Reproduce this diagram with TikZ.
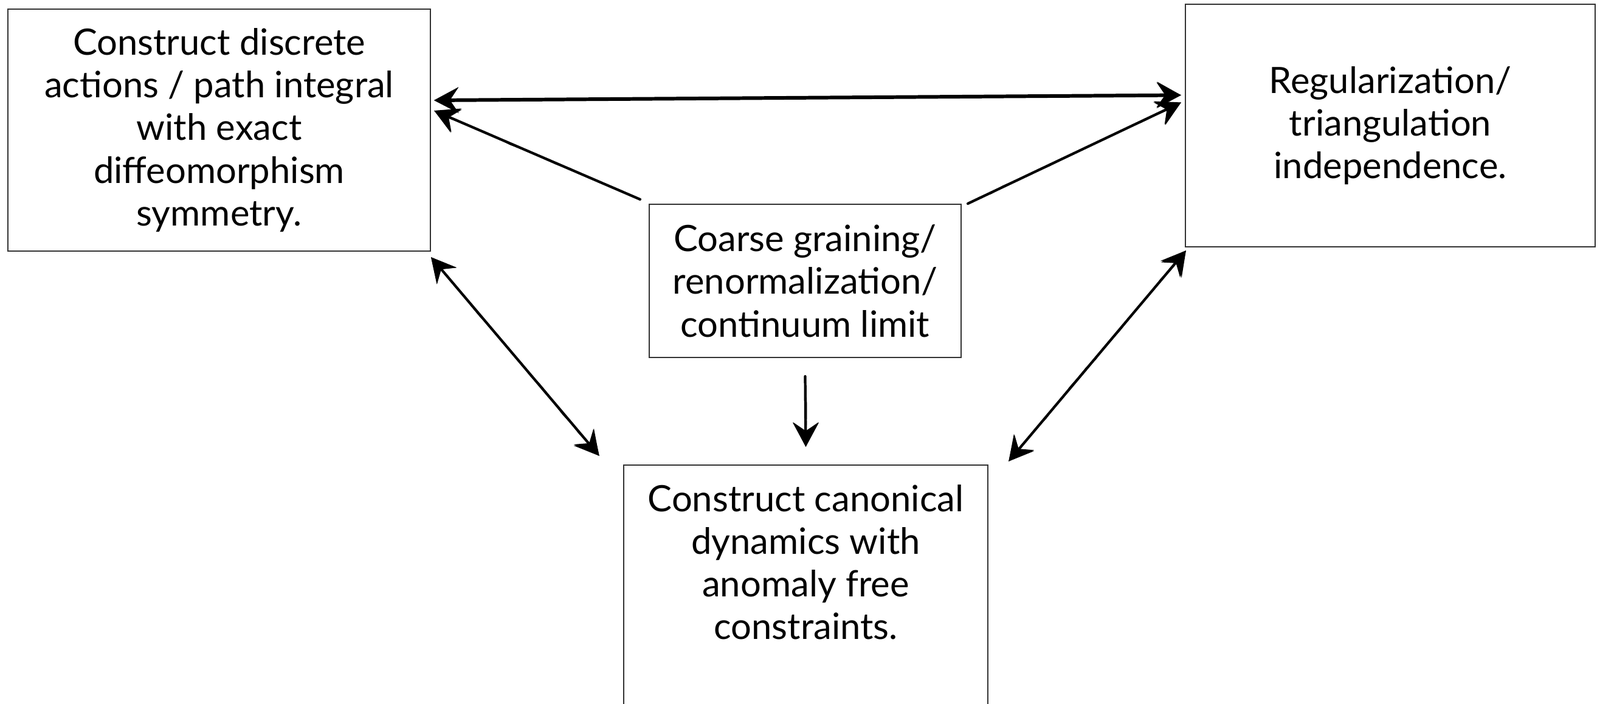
\documentclass[tikz,border=0pt]{standalone}
\usepackage{fontspec}
\setmainfont{Lato}
\usetikzlibrary{positioning,arrows.meta,decorations.pathmorphing}

\tikzset{
  box/.style={draw=black!80, line width=0.6pt, align=center, inner sep=0pt,
    font=\fontsize{17}{20}\selectfont},
  sketch/.style={black, line width=1.2pt, line cap=round,
    {Stealth[length=0.4cm, width=0.42cm, inset=0.14cm]}-{Stealth[length=0.4cm, width=0.42cm, inset=0.14cm]},
    preaction={draw, line width=0.6pt, decorate,
      decoration={random steps, segment length=6pt, amplitude=0.4pt}}},
  sketchone/.style={sketch, -{Stealth[length=0.4cm, width=0.42cm, inset=0.14cm]}}
}

\begin{document}
\begin{tikzpicture}
\path[use as bounding box] (0,0) rectangle (26.32,-11.58);
\clip (0,0) rectangle (26.32,-11.58);

\node[box, minimum width=6.95cm, minimum height=3.98cm] (discrete) at (3.605,-2.14)
  {Construct discrete\\actions / path integral\\with exact\\diffeomorphism\\symmetry.};
\node[box, minimum width=6.74cm, minimum height=3.99cm] (regular) at (22.87,-2.065)
  {Regularization/\\triangulation\\independence.};
\node[box, minimum width=5.13cm, minimum height=2.52cm] (coarse) at (13.245,-4.62)
  {Coarse graining/\\renormalization/\\continuum limit};
\node[box, minimum width=5.99cm, minimum height=5cm, anchor=north] (canon) at (13.255,-7.64) {};
\node[box, draw=none, anchor=north, below=0.32cm of canon.north] (canontext)
  {Construct canonical\\dynamics with\\anomaly free\\constraints.};

% top link between the two upper boxes is heavier
\draw[sketch, line width=1.7pt] ([xshift=0.05cm,yshift=0.49cm]discrete.east) -- ([xshift=-0.06cm,yshift=0.5cm]regular.west);
\draw[sketchone] ([xshift=-0.14cm,yshift=0.07cm]coarse.north west) -- ([xshift=0.05cm,yshift=0.32cm]discrete.east);
\draw[sketchone] ([xshift=0.1cm]coarse.north east) -- ([xshift=-0.06cm,yshift=0.38cm]regular.west);
\draw[sketch] ([yshift=-0.09cm]discrete.south east) -- ([xshift=-0.39cm,yshift=0.14cm]canon.north west);
\draw[sketch] ([xshift=0.02cm,yshift=-0.05cm]regular.south west) -- ([xshift=0.33cm,yshift=0.05cm]canon.north east);
\draw[sketchone] ([yshift=-0.3cm]coarse.south) -- ([yshift=0.29cm]canon.north);
\end{tikzpicture}
\end{document}
